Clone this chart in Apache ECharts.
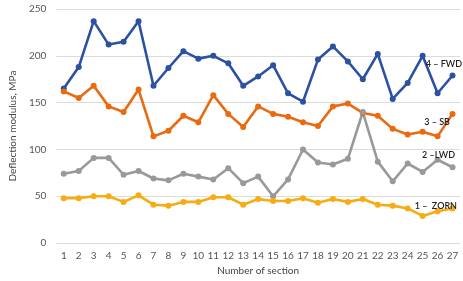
<!DOCTYPE html>
<html><head><meta charset="utf-8">
<script src="https://cdn.jsdelivr.net/npm/echarts@6/dist/echarts.min.js"></script>
<style>html,body{margin:0;padding:0;background:#fff}#c{width:463px;height:281px}</style>
</head><body><div id="c"></div>
<script>
const sections = ['1','2','3','4','5','6','7','8','9','10','11','12','13','14','15','16','17','18','19','20','21','22','23','24','25','26','27'];
const fwd  = [165,188,237,212,215,237,168,187,205,197,200,192,168,178,190,160,151,196,210,194,175,202,154,171,200,160,179];
const sb   = [162,155,168,146,140,164,114,120,136,129,158,138,124,146,138,135,129,125,146,149,139,136,122,116,119,114,138];
const lwd  = [74,77,91,91,73,77,69,67,74,71,68,80,64,71,50,68,100,86,84,90,140,87,66,85,76,89,81];
const zorn = [48,48,50,50,44,51,41,40,44,44,49,49,41,47,45,45,48,43,47,44,47,41,40,37,29,34,37];
const yTicks = [0,50,100,150,200,250];

const font = 'Lato, "Open Sans", sans-serif';
const chart = echarts.init(document.getElementById('c'));
function line(name, data, color){
  return {name, type:'line', data, symbol:'circle', symbolSize:6,
    lineStyle:{width:2.6,color}, itemStyle:{color}, animation:false};
}
const ann = (text, right, top) => ({type:'text', right, top, z:100,
  style:{text, font:'600 9px '+font, fill:'#222'}});
chart.setOption({
  animation:false,
  grid:{left:40,right:3,top:9,bottom:33},
  xAxis:{type:'category', data:sections, boundaryGap:true,
    axisLine:{show:false}, axisTick:{show:false},
    axisLabel:{fontFamily:font,fontSize:10,color:'#555',margin:8,interval:0},
    name:'Number of section', nameLocation:'middle', nameGap:22,
    nameTextStyle:{fontFamily:font,fontSize:10,color:'#444'}},
  yAxis:{type:'value', min:yTicks[0], max:yTicks[yTicks.length-1], interval:50,
    axisLine:{show:false}, axisTick:{show:false},
    splitLine:{lineStyle:{color:'#dcdcdc',width:1}},
    axisLabel:{fontFamily:font,fontSize:10,color:'#555',margin:10},
    name:'Deflection modulus, MPa', nameLocation:'middle', nameGap:30,
    nameTextStyle:{fontFamily:font,fontSize:10,color:'#444'}},
  series:[
    line('FWD', fwd, '#2C51A0'),
    line('SB', sb, '#EA6A10'),
    line('LWD', lwd, '#999999'),
    line('ZORN', zorn, '#F6AC12')
  ],
  graphic:[
    ann('4 – FWD', 1, 60),
    ann('3 – SB', 13, 118),
    ann('2 –LWD', 8, 151),
    ann('1 –  ZORN', 6, 202)
  ]
});
</script></body></html>
